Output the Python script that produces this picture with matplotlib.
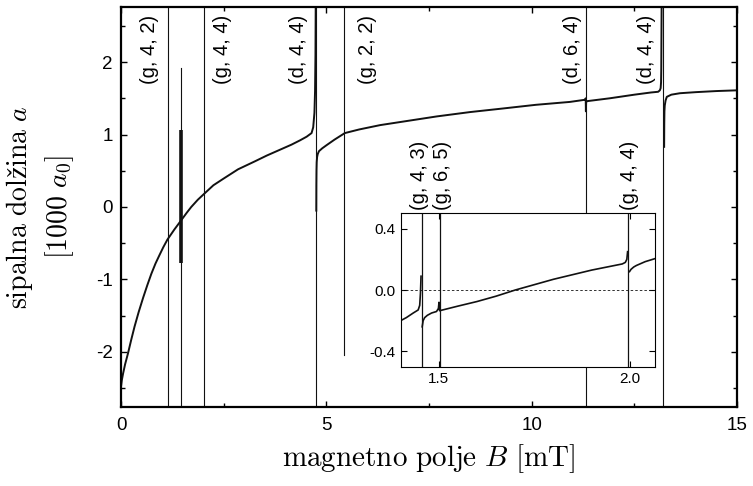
import numpy as np
import matplotlib
matplotlib.use("Agg")
import matplotlib.pyplot as plt

plt.rcParams['font.family'] = ['Liberation Sans', 'DejaVu Sans']
plt.rcParams['mathtext.fontset'] = 'cm'
plt.rcParams['axes.unicode_minus'] = False

# sipalna dolzina a(B), veje med resonancami (odcitano s slike)
B1 = [0.0, 0.02, 0.05, 0.10, 0.17, 0.25, 0.33, 0.43, 0.54, 0.64, 0.74, 0.84,
      0.94, 1.03, 1.13, 1.30, 1.47, 1.60, 1.71, 1.87, 2.04, 2.25, 2.52, 2.85,
      3.26, 3.55, 3.87, 4.15, 4.36, 4.52, 4.64, 4.68, 4.71, 4.725, 4.735, 4.742]
a1 = [-2.48, -2.39, -2.30, -2.17, -2.02, -1.83, -1.65, -1.45, -1.25, -1.08, -0.92, -0.78,
      -0.66, -0.555, -0.45, -0.31, -0.18, -0.08, 0.0, 0.10, 0.19, 0.30, 0.40, 0.52,
      0.63, 0.71, 0.79, 0.86, 0.92, 0.97, 1.02, 1.10, 1.30, 1.60, 2.10, 2.90]
B2 = [4.755, 4.757, 4.760, 4.765, 4.775, 4.79, 4.82, 4.9, 5.01, 5.2, 5.45, 5.8,
      6.31, 7.0, 7.69, 8.5, 9.31, 10.1, 10.93, 11.30, 11.315, 11.32, 11.325, 11.34,
      11.9, 12.5, 12.9, 13.08, 13.12, 13.14, 13.15, 13.155, 13.165]
a2 = [-0.05, 0.30, 0.50, 0.62, 0.69, 0.73, 0.77, 0.81, 0.855, 0.93, 1.02, 1.07,
      1.13, 1.19, 1.25, 1.31, 1.36, 1.41, 1.45, 1.48, 1.50, 1.32, 1.44, 1.46,
      1.50, 1.55, 1.58, 1.59, 1.61, 1.64, 1.72, 1.90, 2.90]
B3 = [13.225, 13.228, 13.232, 13.24, 13.26, 13.29, 13.4, 13.61, 14.0, 14.5, 15.0]
a3 = [0.83, 1.15, 1.32, 1.40, 1.47, 1.52, 1.55, 1.57, 1.585, 1.60, 1.61]

# resonance (navpicne crte): polozaj, spodnja in zgornja meja
res_B = [1.14, 2.03, 4.75, 5.44, 11.32, 13.19, 1.46]
res_lo = [-2.76, -2.76, -2.76, -2.04, -2.76, -2.76, -2.76]
res_hi = [2.76, 2.76, 2.76, 2.76, 2.76, 2.76, 1.92]
# ozki resonanci pri 1.43 / 1.50 (debel del)
narrow_B = 1.46
narrow_lo, narrow_hi = -0.77, 1.06

labels = ['(g, 4, 2)', '(g, 4, 4)', '(d, 4, 4)', '(g, 2, 2)', '(d, 6, 4)', '(d, 4, 4)']
label_B = [0.69, 2.48, 4.32, 5.99, 10.99, 12.80]

# povecava
Bi1 = [1.40, 1.415, 1.433, 1.446, 1.450, 1.452, 1.4535]
ai1 = [-0.20, -0.18, -0.15, -0.13, -0.10, -0.02, 0.09]
Bi2 = [1.4565, 1.459, 1.463, 1.47, 1.481, 1.494, 1.499, 1.5005, 1.502, 1.51,
       1.55, 1.60, 1.65, 1.70, 1.75, 1.80, 1.85, 1.90, 1.95, 1.98, 1.988, 1.992, 1.994]
ai2 = [-0.24, -0.20, -0.18, -0.165, -0.15, -0.14, -0.12, -0.08, -0.135, -0.13,
       -0.105, -0.075, -0.04, 0.0, 0.035, 0.07, 0.10, 0.13, 0.155, 0.17, 0.18, 0.20, 0.25]
Bi3 = [1.999, 2.003, 2.01, 2.017, 2.04, 2.066]
ai3 = [0.12, 0.135, 0.15, 0.16, 0.185, 0.205]
ires_B = [1.455, 1.502, 1.996]
ilabels = ['(g, 4, 3)', '(g, 6, 5)', '(g, 4, 4)']
ilabel_B = [1.450, 1.510, 1.998]

fig = plt.figure(figsize=(7.53, 4.86), dpi=100)
ax = fig.add_axes([0.1607, 0.1626, 0.8181, 0.823])

c = '#111111'
for B, a in [(B1, a1), (B2, a2), (B3, a3)]:
    ax.plot(B, a, color=c, lw=1.4)
for B, lo, hi in zip(res_B, res_lo, res_hi):
    ax.plot([B, B], [lo, hi], color=c, lw=0.8)
ax.plot([narrow_B, narrow_B], [narrow_lo, narrow_hi], color=c, lw=2.6,
        solid_capstyle='butt')

for t, B in zip(labels, label_B):
    ax.text(B, 2.17, t, rotation=90, ha='center', va='center', fontsize=14.5)

ax.set_xlim(0, 15)
ax.set_ylim(-2.76, 2.76)
ax.set_xticks([0, 5, 10, 15])
ax.set_xticks([2.5, 7.5, 12.5], minor=True)
ax.set_yticks([-2, -1, 0, 1, 2])
ax.set_yticks(np.arange(-2.5, 2.6, 0.5), minor=True)
ax.tick_params(which='both', direction='in', top=True, right=True, width=1)
ax.tick_params(which='major', length=4.5, labelsize=13.5, pad=6)
ax.tick_params(which='minor', length=2.8)
ax.tick_params(axis='x', pad=7)
for s in ax.spines.values():
    s.set_linewidth(1.6)

ax.set_xlabel(r'$\mathrm{magnetno\ polje}\ B\ [\mathrm{mT}]$', fontsize=21, labelpad=6)
ax.set_ylabel('$\\mathrm{sipalna\\ dolžina}\\ a$\n$[1000\\ a_0]$',
              fontsize=20, labelpad=14, linespacing=1.35)

# vstavljen graf
ins = fig.add_axes([0.532, 0.2455, 0.338, 0.3155])
for B, a in [(Bi1, ai1), (Bi2, ai2), (Bi3, ai3)]:
    ins.plot(B, a, color=c, lw=1.2)
for B in ires_B:
    ins.axvline(B, color=c, lw=0.9)
ins.axhline(0, color=c, lw=0.6, ls=(0, (3, 2.5)))
for t, B in zip(ilabels, ilabel_B):
    ins.text(B, 0.747, t, rotation=90, ha='center', va='center', fontsize=14.5,
             clip_on=False)
ins.set_xlim(1.4, 2.066)
ins.set_ylim(-0.5, 0.5)
ins.set_xticks([1.5, 2.0])
ins.set_yticks([-0.4, 0.0, 0.4])
ins.set_xticklabels(['1.5', '2.0'])
ins.set_yticklabels(['-0.4', '0.0', '0.4'])
ins.tick_params(direction='in', top=True, right=True, length=4, width=0.8,
                labelsize=11, pad=4)
for s in ins.spines.values():
    s.set_linewidth(0.8)

fig.savefig('out.png', dpi=100)
